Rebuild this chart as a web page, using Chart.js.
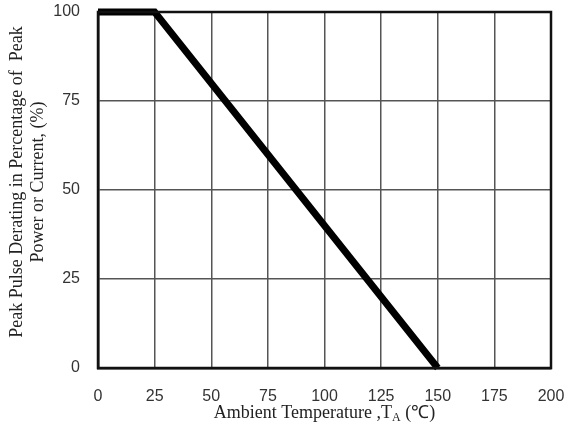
<!DOCTYPE html>
<html>
<head>
<meta charset="utf-8">
<script src="https://cdn.jsdelivr.net/npm/chart.js@4/dist/chart.umd.min.js"></script>
<style>
  html, body { margin: 0; padding: 0; background: #fff; }
  #wrap { width: 567px; height: 432px; }
</style>
</head>
<body>
<div id="wrap"><canvas id="chart"></canvas></div>
<script>
// Derating curve data
const temperatures = [0, 25, 150];
const derating = [100, 100, 0];
const xTicks = [0, 25, 50, 75, 100, 125, 150, 175, 200];
const yTicks = [0, 25, 50, 75, 100];

const yTitleLines = ["Peak Pulse Derating in Percentage of  Peak", "Power or Current, (%)"];

const serif = "'Liberation Serif', 'Times New Roman', serif";
const sans = "'Liberation Sans', Arial, sans-serif";

// Draw axis titles by hand so the subscript A can be shown
const axisTitles = {
  id: "axisTitles",
  afterDraw(chart) {
    const { ctx, chartArea } = chart;
    ctx.save();
    ctx.fillStyle = "#222";
    ctx.textBaseline = "middle";

    // x title with subscript
    const main = "Ambient Temperature ,T";
    const sub = "A";
    const tail = " (\u2103)";
    ctx.font = "18px " + serif;
    const wMain = ctx.measureText(main).width;
    const wTail = ctx.measureText(tail).width;
    ctx.font = "12px " + serif;
    const wSub = ctx.measureText(sub).width;
    const cx = (chartArea.left + chartArea.right) / 2;
    let x = cx - (wMain + wSub + wTail) / 2;
    const y = 413;
    ctx.textAlign = "left";
    ctx.font = "18px " + serif;
    ctx.fillText(main, x, y);
    x += wMain;
    ctx.font = "12px " + serif;
    ctx.fillText(sub, x, y + 5);
    x += wSub;
    ctx.font = "18px " + serif;
    ctx.fillText(tail, x, y);

    // y title, two lines rotated
    const cy = 182;
    ctx.textAlign = "center";
    ctx.font = "18px " + serif;
    ctx.translate(17, cy);
    ctx.rotate(-Math.PI / 2);
    ctx.fillText(yTitleLines[0], 0, 0);
    ctx.fillText(yTitleLines[1], 0, 21);
    ctx.restore();
  }
};

new Chart(document.getElementById("chart"), {
  type: "line",
  data: {
    datasets: [{
      data: temperatures.map((t, i) => ({ x: t, y: derating[i] })),
      borderColor: "#000",
      borderWidth: 7,
      pointRadius: 0,
      tension: 0,
      clip: false
    }]
  },
  options: {
    responsive: true,
    maintainAspectRatio: false,
    animation: false,
    layout: { padding: { top: 12, right: 16, left: 0, bottom: 0 } },
    plugins: { legend: { display: false }, tooltip: { enabled: false } },
    scales: {
      x: {
        type: "linear",
        min: 0,
        max: 200,
        afterBuildTicks: (s) => { s.ticks = xTicks.map(v => ({ value: v })); },
        afterFit: (s) => { s.height = 64; s.paddingLeft = 0; s.paddingRight = 0; },
        grid: { color: "#555", lineWidth: 1.5, drawTicks: false },
        border: { color: "#111", width: 2.5 },
        ticks: { padding: 19, color: "#333", font: { family: sans, size: 16 } }
      },
      y: {
        min: 0,
        max: 100,
        afterBuildTicks: (s) => { s.ticks = yTicks.map(v => ({ value: v })); },
        afterFit: (s) => { s.width = 98; s.paddingTop = 0; s.paddingBottom = 0; },
        grid: { color: "#555", lineWidth: 1.5, drawTicks: false },
        border: { color: "#111", width: 2.5 },
        ticks: { padding: 18, color: "#333", font: { family: sans, size: 16 } }
      }
    }
  },
  plugins: [axisTitles, {
    id: "frame",
    afterDraw(chart) {
      const { ctx, chartArea: a } = chart;
      ctx.save();
      ctx.strokeStyle = "#111";
      ctx.lineWidth = 2.5;
      ctx.strokeRect(a.left, a.top, a.right - a.left, a.bottom - a.top);
      ctx.restore();
    }
  }]
});
</script>
</body>
</html>
